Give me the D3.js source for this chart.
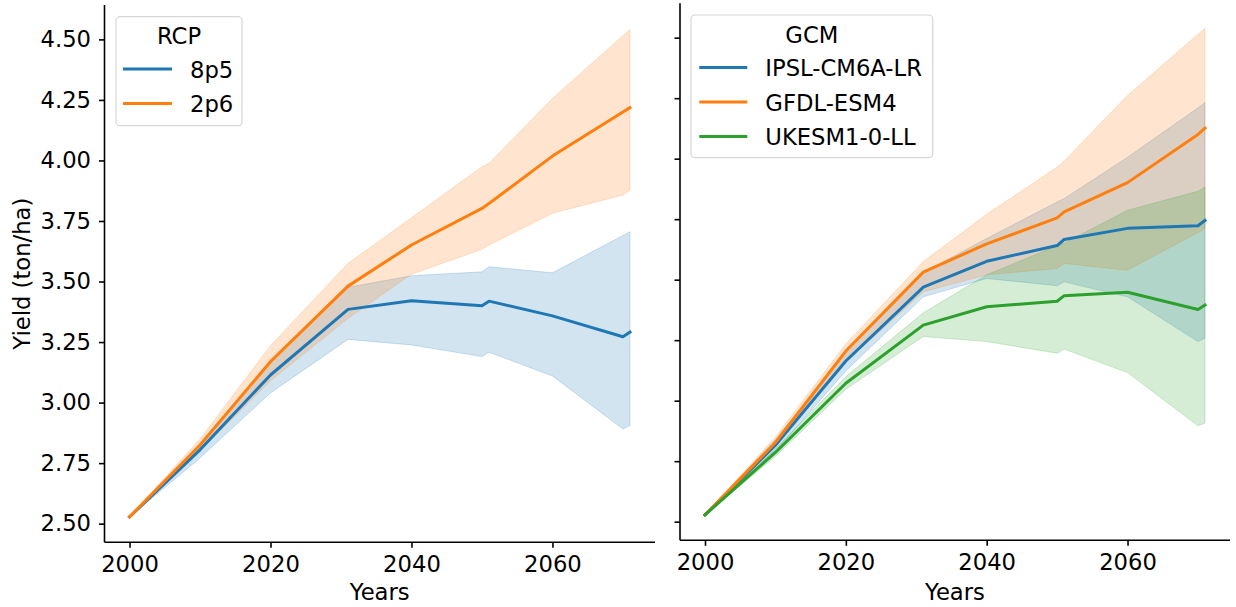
<!DOCTYPE html>
<html>
<head>
<meta charset="utf-8">
<script src="https://cdn.jsdelivr.net/npm/d3@7"></script>
<style>
  html, body { margin: 0; padding: 0; background: #fff; }
  svg { display: block; font-family: "DejaVu Sans", sans-serif; }
</style>
</head>
<body>
<svg id="chart" width="1236" height="607"></svg>
<script>
// Simulation years shared by every series
const years = [2000, 2010, 2020, 2031, 2040, 2050, 2051, 2060, 2070, 2071];

// Left panel: yield by RCP scenario (mean and uncertainty band)
const rcpNames = ["8p5", "2p6"];
const rcp85Mean = [2.528, 2.805, 3.114, 3.385, 3.421, 3.400, 3.419, 3.358, 3.272, 3.291];
const rcp85Lo   = [2.528, 2.771, 3.040, 3.261, 3.238, 3.190, 3.208, 3.110, 2.891, 2.905];
const rcp85Hi   = [2.528, 2.830, 3.170, 3.476, 3.524, 3.540, 3.561, 3.536, 3.690, 3.706];
const rcp26Mean = [2.528, 2.825, 3.169, 3.481, 3.651, 3.802, 3.822, 4.018, 4.200, 4.218];
const rcp26Lo   = [2.528, 2.800, 3.090, 3.348, 3.530, 3.633, 3.651, 3.782, 3.857, 3.878];
const rcp26Hi   = [2.528, 2.850, 3.235, 3.575, 3.763, 3.974, 3.988, 4.256, 4.515, 4.541];

// Right panel: yield by climate model
const gcmNames = ["IPSL-CM6A-LR", "GFDL-ESM4", "UKESM1-0-LL"];
const ipslMean  = [2.528, 2.816, 3.164, 3.469, 3.576, 3.641, 3.666, 3.712, 3.723, 3.745];
const ipslLo    = [2.528, 2.790, 3.123, 3.429, 3.505, 3.475, 3.491, 3.429, 3.244, 3.258];
const ipslHi    = [2.528, 2.840, 3.200, 3.530, 3.670, 3.821, 3.835, 4.006, 4.210, 4.232];
const gfdlMean  = [2.528, 2.827, 3.205, 3.531, 3.648, 3.755, 3.780, 3.901, 4.100, 4.126];
const gfdlLo    = [2.528, 2.810, 3.160, 3.450, 3.520, 3.546, 3.567, 3.539, 3.695, 3.711];
const gfdlHi    = [2.528, 2.850, 3.235, 3.575, 3.770, 3.965, 3.990, 4.261, 4.514, 4.539];
const ukesmMean = [2.528, 2.786, 3.072, 3.312, 3.388, 3.411, 3.434, 3.448, 3.377, 3.395];
const ukesmLo   = [2.528, 2.770, 3.047, 3.265, 3.244, 3.196, 3.213, 3.116, 2.896, 2.907];
const ukesmHi   = [2.528, 2.800, 3.100, 3.363, 3.520, 3.640, 3.650, 3.787, 3.865, 3.883];

// Axis ticks
const xTicks = [2000, 2020, 2040, 2060];
const yTicks = [2.50, 2.75, 3.00, 3.25, 3.50, 3.75, 4.00, 4.25, 4.50];

const palette = ["#1f77b4", "#ff7f0e", "#2ca02c"];
const FONT = 22.7;

const svg = d3.select("#chart");

function zipSeries(mean, lo, hi) {
  return years.map((yr, i) => ({ yr, m: mean[i], lo: lo[i], hi: hi[i] }));
}

const panels = [
  {
    left: 104.5, right: 655, top: 5, bottom: 542.3,
    legendTitle: "RCP",
    names: rcpNames,
    series: [zipSeries(rcp85Mean, rcp85Lo, rcp85Hi), zipSeries(rcp26Mean, rcp26Lo, rcp26Hi)],
    yLabels: true,
    legend: { x: 116, y: 16.7, w: 126, h: 109, lineX0: 123, lineX1: 172, textX: 190 }
  },
  {
    left: 680, right: 1230, top: 3.3, bottom: 540.3,
    legendTitle: "GCM",
    names: gcmNames,
    series: [zipSeries(ipslMean, ipslLo, ipslHi), zipSeries(gfdlMean, gfdlLo, gfdlHi), zipSeries(ukesmMean, ukesmLo, ukesmHi)],
    yLabels: false,
    legend: { x: 691, y: 15, w: 241.7, h: 142.7, lineX0: 699.3, lineX1: 747.3, textX: 765.3 }
  }
];

panels.forEach(p => {
  const x = d3.scaleLinear().domain([1996.45, 2074.55]).range([p.left, p.right]);
  const y = d3.scaleLinear().domain([2.423, 4.642]).range([p.bottom, p.top]);

  const g = svg.append("g");

  // Uncertainty bands first, then the mean lines on top
  const area = d3.area().x(d => x(d.yr)).y0(d => y(d.lo)).y1(d => y(d.hi));
  p.series.forEach((s, i) => {
    g.append("path").datum(s)
      .attr("d", area)
      .attr("fill", palette[i]).attr("fill-opacity", 0.2)
      .attr("stroke", palette[i]).attr("stroke-opacity", 0.2).attr("stroke-width", 1);
  });
  const line = d3.line().x(d => x(d.yr)).y(d => y(d.m));
  p.series.forEach((s, i) => {
    g.append("path").datum(s)
      .attr("d", line)
      .attr("fill", "none")
      .attr("stroke", palette[i]).attr("stroke-width", 3)
      .attr("stroke-linejoin", "round").attr("stroke-linecap", "square");
  });

  // Axes (left and bottom spines only)
  const xAxis = d3.axisBottom(x).tickValues(xTicks).tickFormat(d3.format("d")).tickSize(5.5).tickPadding(8);
  const yAxis = d3.axisLeft(y).tickValues(yTicks).tickFormat(p.yLabels ? d3.format(".2f") : () => "").tickSize(5.5).tickPadding(8);

  const gx = g.append("g").attr("transform", `translate(0,${p.bottom})`).call(xAxis);
  const gy = g.append("g").attr("transform", `translate(${p.left},0)`).call(yAxis);
  [gx, gy].forEach(ax => {
    ax.select(".domain").attr("stroke", "#000").attr("stroke-width", 1.6);
    ax.selectAll(".tick line").attr("stroke", "#000").attr("stroke-width", 1.6);
    ax.selectAll(".tick text").attr("font-size", FONT).attr("fill", "#000")
      .attr("font-family", "DejaVu Sans, sans-serif");
  });
  gx.select(".domain").attr("d", `M${p.left},0H${p.right}`);
  gy.select(".domain").attr("d", `M0,${p.bottom}V${p.top}`);

  // X axis title
  g.append("text")
    .attr("x", (p.left + p.right) / 2).attr("y", 600)
    .attr("text-anchor", "middle").attr("font-size", FONT).attr("fill", "#000")
    .text("Years");

  if (p.yLabels) {
    g.append("text")
      .attr("transform", `translate(29.5,${(p.top + p.bottom) / 2}) rotate(-90)`)
      .attr("text-anchor", "middle").attr("font-size", FONT).attr("fill", "#000")
      .text("Yield (ton/ha)");
  }

  // Legend
  const L = p.legend;
  const lg = g.append("g");
  lg.append("rect")
    .attr("x", L.x).attr("y", L.y).attr("width", L.w).attr("height", L.h)
    .attr("rx", 4).attr("ry", 4)
    .attr("fill", "#fff").attr("fill-opacity", 0.8)
    .attr("stroke", "#d6d6d6").attr("stroke-width", 1.2);
  lg.append("text")
    .attr("x", L.x + L.w / 2).attr("y", L.y + 27.5)
    .attr("text-anchor", "middle").attr("font-size", FONT).attr("fill", "#000")
    .text(p.legendTitle);
  p.names.forEach((name, i) => {
    const cy = L.y + 52.4 + i * 34.5;
    lg.append("line")
      .attr("x1", L.lineX0).attr("x2", L.lineX1).attr("y1", cy).attr("y2", cy)
      .attr("stroke", palette[i]).attr("stroke-width", 3);
    lg.append("text")
      .attr("x", L.textX).attr("y", cy + 8.6)
      .attr("font-size", FONT).attr("fill", "#000")
      .text(name);
  });
});
</script>
</body>
</html>
